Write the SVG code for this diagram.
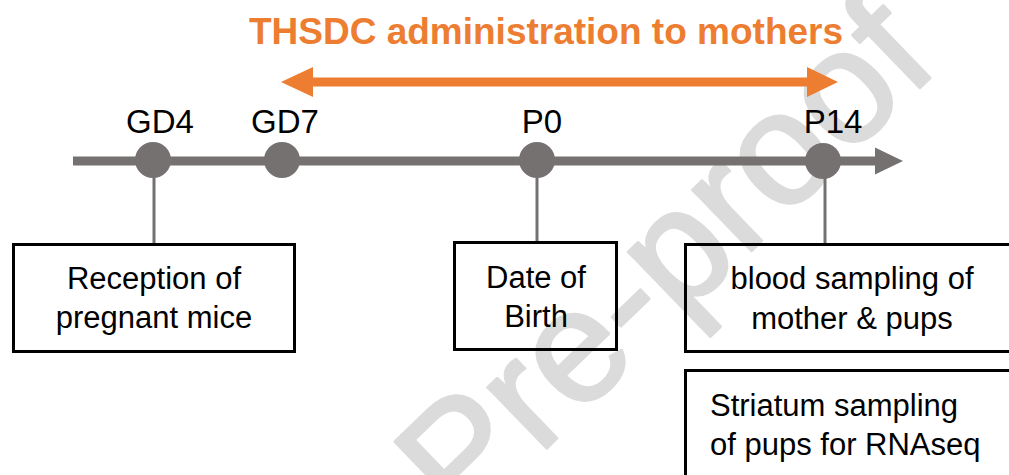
<svg xmlns="http://www.w3.org/2000/svg" width="1009" height="475" viewBox="0 0 1009 475">
<style>
  .lbl { font-family: "Liberation Sans", Arial, sans-serif; font-size: 31px; fill: #000; text-anchor: middle; }
  .tick { font-family: "Liberation Sans", Arial, sans-serif; font-size: 33px; fill: #000; text-anchor: middle; }
  .start { text-anchor: start; }
  .box { fill: none; stroke: #000; stroke-width: 3; }
  .drop { stroke: #767171; stroke-width: 3; fill: none; }
  .dot { fill: #767171; }
  .wm { font-family: "Liberation Sans", Arial, sans-serif; font-size: 160px; fill: #dbdbdb; stroke: #dbdbdb; stroke-width: 3; stroke-linejoin: round; }
</style>
<rect width="1009" height="475" fill="#fff"/>
<text class="wm" transform="translate(462,530) rotate(-44)">Pre-proof</text>
<g id="title">
  <text x="546" y="44" font-family="Liberation Sans, Arial, sans-serif" font-weight="bold" font-size="37" fill="#ED7D31" text-anchor="middle">THSDC administration to mothers</text>
</g>
<g id="connectors">
  <g id="admin-arrow">
    <line x1="305" y1="82" x2="812" y2="82" stroke="#ED7D31" stroke-width="9"/>
    <polygon points="281,82 313,67 313,97" fill="#ED7D31"/>
    <polygon points="838,82 807,67 807,97" fill="#ED7D31"/>
  </g>
  <g id="timeline">
    <line x1="73" y1="161" x2="880" y2="161" stroke="#767171" stroke-width="9"/>
    <polygon points="903,161 875,147.5 875,174.5" fill="#767171"/>
  </g>
  <line class="drop" x1="154" y1="160" x2="154" y2="244"/>
  <line class="drop" x1="537" y1="160" x2="537" y2="242"/>
  <line class="drop" x1="825" y1="160" x2="825" y2="244"/>
</g>
<g id="gd4">
  <circle class="dot" cx="153" cy="160" r="18"/>
  <text class="tick" x="160" y="133">GD4</text>
</g>
<g id="gd7">
  <circle class="dot" cx="282" cy="160" r="18"/>
  <text class="tick" x="285" y="133">GD7</text>
</g>
<g id="p0">
  <circle class="dot" cx="537" cy="160" r="18"/>
  <text class="tick" x="542" y="133">P0</text>
</g>
<g id="p14">
  <circle class="dot" cx="823" cy="161" r="18"/>
  <text class="tick" x="833" y="133">P14</text>
</g>
<g id="box-reception">
  <rect class="box" x="13.5" y="244.5" width="281" height="107"/>
  <text class="lbl" x="154" y="289">Reception of</text>
  <text class="lbl" x="154" y="328">pregnant mice</text>
</g>
<g id="box-birth">
  <rect class="box" x="454.5" y="242.5" width="162" height="107"/>
  <text class="lbl" x="536" y="288">Date of</text>
  <text class="lbl" x="536" y="327">Birth</text>
</g>
<g id="box-blood">
  <rect class="box" x="685.5" y="244.5" width="330" height="107"/>
  <text class="lbl" x="852" y="289">blood sampling of</text>
  <text class="lbl" x="852" y="329">mother &amp; pups</text>
</g>
<g id="box-striatum">
  <rect class="box" x="685.5" y="370.5" width="330" height="120"/>
  <text class="lbl start" x="710" y="416">Striatum sampling</text>
  <text class="lbl start" x="710" y="455">of pups for RNAseq</text>
</g>
</svg>
